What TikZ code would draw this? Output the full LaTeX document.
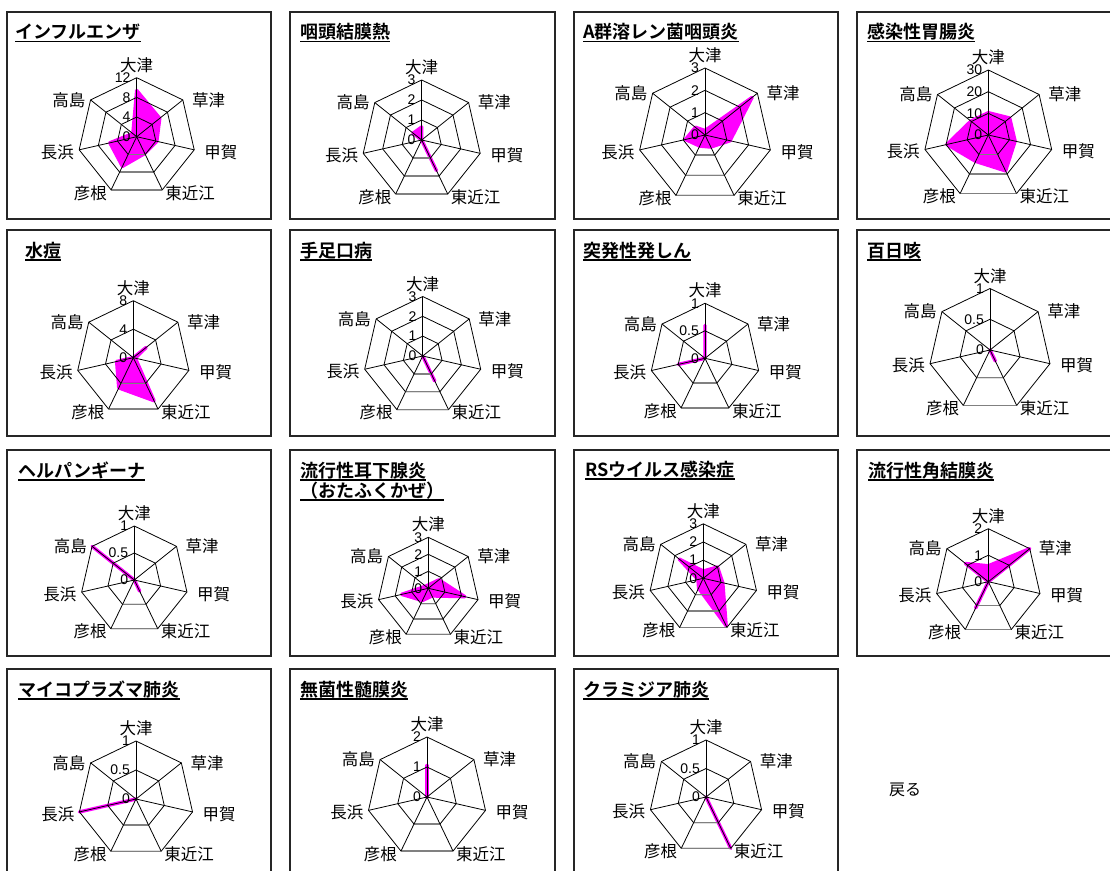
\documentclass[tikz,border=0pt]{standalone}
\usepackage{fontspec}
\setmainfont{Liberation Sans}
\newfontfamily\jp{Noto Sans CJK JP}[BoldFont={Noto Sans CJK JP Bold}]
\definecolor{mag}{RGB}{255,0,255}
\tikzset{
  panel/.style={draw=black!85, line width=1.2pt},
  gridline/.style={draw=black, line width=0.8pt},
  gridbot/.style={draw=gray, line width=1.4pt},
  dataarea/.style={fill=mag, draw=mag, line width=3.4pt, line join=round, line cap=round},
  ttlnode/.style={anchor=base west, inner sep=0pt, font=\jp\bfseries\fontsize{18}{18}\selectfont},
  uline/.style={draw=black, line width=1.5pt},
  axlabel/.style={inner sep=0pt, font=\jp\fontsize{16.5}{16.5}\selectfont},
  ticklabel/.style={anchor=east, inner sep=0pt, font=\fontsize{14}{14}\selectfont},
  plain/.style={inner sep=0pt, font=\jp\fontsize{16}{16}\selectfont}
}
% #1 id, #2 cx, #3 cy, #4 radius, #5 max, #6 rings, #7 tick labels, #8 values
\newcommand{\radar}[8]{%
\begin{scope}[shift={(#2,#3)}]
  \foreach \v [count=\i from 0] in {#8} {
    \coordinate (#1d\i) at ({-90+\i*360/7}:{\v/#5*#4});
  }
  \filldraw[dataarea] (#1d0) \foreach \i in {1,...,6}{ -- (#1d\i)} -- cycle;
  \foreach \k in {1,...,#6} {
    \draw[gridline] (-90:{\k*#4/#6}) \foreach \i in {1,...,6}{ -- ({-90+\i*360/7}:{\k*#4/#6})} -- cycle;
    \draw[gridbot] ({-90+3*360/7}:{\k*#4/#6}) -- ({-90+4*360/7}:{\k*#4/#6});
  }
  \foreach \i in {0,...,6} {
    \coordinate (#1v\i) at ({-90+\i*360/7}:#4);
    \draw[gridline] (0,0) -- (#1v\i);
  }
  \foreach \t [count=\k from 0] in {#7} {
    \node[ticklabel] (#1t\k) at (-6,{-\k*#4/#6}) {\t};
  }
  \node[axlabel, anchor=south] (#1a0) at ([yshift=5pt]#1v0) {大津};
  \node[axlabel, anchor=west] (#1a1) at ([xshift=9pt]#1v1) {草津};
  \node[axlabel, anchor=west] (#1a2) at ([xshift=10pt,yshift=-2pt]#1v2) {甲賀};
  \node[axlabel, anchor=west] (#1a3) at ([xshift=3pt,yshift=-3pt]#1v3) {東近江};
  \node[axlabel, anchor=east] (#1a4) at ([xshift=-4pt,yshift=-3pt]#1v4) {彦根};
  \node[axlabel, anchor=east] (#1a5) at ([xshift=-5pt,yshift=-2pt]#1v5) {長浜};
  \node[axlabel, anchor=east] (#1a6) at ([xshift=-5pt]#1v6) {高島};
\end{scope}}
\newcommand{\ttl}[4]{%
  \node[ttlnode] (#1) at (#2,#3) {#4};
  \draw[uline] ([yshift=-3pt]#1.base west) -- ([yshift=-3pt]#1.base east);}

\begin{document}
\begin{tikzpicture}[x=1pt,y=-1pt]
\fill[white] (0,0) rectangle (1110,870);
\useasboundingbox (0,0) rectangle (1110,870);

% panel frames
\foreach \yt/\yb in {12/219, 230/436, 450/656} {
  \draw[panel] (7,\yt) rectangle (271,\yb);
  \draw[panel] (290,\yt) rectangle (555,\yb);
  \draw[panel] (574,\yt) rectangle (838,\yb);
  \draw[panel] (857,\yt) rectangle (1125,\yb);
}
\draw[panel] (7,669) rectangle (271,885);
\draw[panel] (290,669) rectangle (555,885);
\draw[panel] (574,669) rectangle (838,885);

% row 1
\ttl{T1}{15}{38.5}{インフルエンザ}
\radar{P1}{136.7}{136.7}{59}{12}{3}{0,4,8,12}{9.4,6,4.2,3.8,6.7,5.6,1}
\ttl{T2}{300}{38.5}{咽頭結膜熱}
\radar{P2}{421.7}{140}{60}{3}{3}{0,1,2,3}{0.65,0,0,1.7,0,0,0.55}
\ttl{T3}{583}{38.5}{A群溶レン菌咽頭炎}
\radar{P3}{705}{135}{67}{3}{3}{0,1,2,3}{0.2,2.7,1.15,0.6,0.55,0.9,0.55}
\ttl{T4}{867}{38.5}{感染性胃腸炎}
\radar{P4}{988.3}{135}{65}{30}{3}{0,10,20,30}{10.3,12.6,12.7,18.4,13.5,19.6,10.3}

% row 2
\ttl{T5}{25}{257}{水痘}
\radar{P5}{133.3}{357.7}{57}{8}{2}{0,4,8}{0,2.3,0.3,6.7,4.7,2.4,0}
\ttl{T6}{300}{257}{手足口病}
\radar{P6}{422.7}{356}{59.5}{3}{3}{0,1,2,3}{0,0,0,1.4,0,0,0}
\ttl{T7}{583}{257}{突発性発しん}
\radar{P7}{705}{358.3}{55}{1}{2}{0,0.5,1}{0.6,0,0,0,0,0.5,0}
\ttl{T8}{867}{257}{百日咳}
\radar{P8}{990}{350}{61.5}{1}{2}{0,0.5,1}{0,0,0,0.2,0,0,0}

% row 3
\ttl{T9}{18}{477}{ヘルパンギーナ}
\radar{P9}{134.3}{580}{54}{1}{2}{0,0.5,1}{0,0,0,0.23,0,0,1}
\ttl{T10}{300}{477}{流行性耳下腺炎}
\ttl{T10b}{300}{497}{（おたふくかぜ）}
\radar{P10}{428.3}{588.3}{51}{3}{3}{0,1,2,3}{0.2,0.8,2.2,0.5,0.8,1.6,0.2}
\ttl{T11}{585}{476}{RSウイルス感染症}
\radar{P11}{703.3}{578.3}{54.5}{3}{3}{0,1,2,3}{0.4,1,1.1,2.9,0.6,0.3,1.7}
\ttl{T12}{868}{477}{流行性角結膜炎}
\radar{P12}{988.3}{581.7}{53}{2}{2}{0,1,2}{0.6,2,0,0,1.1,0,1.1}

% row 4
\ttl{T13}{18}{696}{マイコプラズマ肺炎}
\radar{P13}{136}{799}{58}{1}{2}{0,0.5,1}{0,0,0,0,0,1,0}
\ttl{T14}{300}{696}{無菌性髄膜炎}
\radar{P14}{427}{797}{60}{2}{2}{0,1,2}{1.05,0,0,0,0,0,0}
\ttl{T15}{583}{696}{クラミジア肺炎}
\radar{P15}{706}{797}{57}{1}{2}{0,0.5,1}{0,0,0,1,0,0,0}

\node[plain] (back) at (905,790) {戻る};
\end{tikzpicture}
\end{document}
